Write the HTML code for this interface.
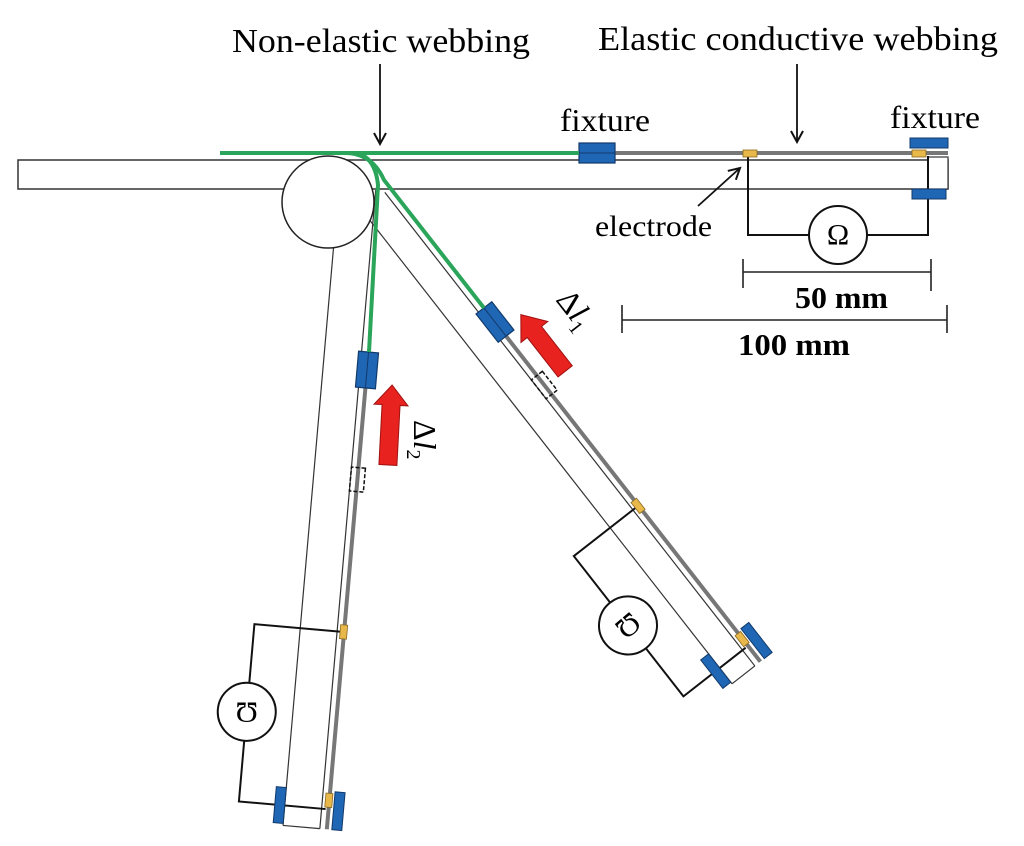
<!DOCTYPE html>
<html><head><meta charset="utf-8"><style>
html,body{margin:0;padding:0;background:#fff;}
svg{display:block;font-family:"Liberation Serif",serif;}
</style></head><body>
<svg width="1024" height="846" viewBox="0 0 1024 846" xmlns="http://www.w3.org/2000/svg">
<defs>
<marker id="ah" markerWidth="14" markerHeight="14" refX="12" refY="7" orient="auto" markerUnits="userSpaceOnUse">
<path d="M1,1 L12,7 L1,13" fill="none" stroke="#111" stroke-width="2"/>
</marker>
</defs>

<rect x="18" y="160" width="930" height="29" fill="#fff" stroke="#333" stroke-width="1.5"/>

<g transform="translate(495,322) rotate(52)">
  <line x1="-170" y1="7" x2="431" y2="7" stroke="#333" stroke-width="1.2"/>
  <line x1="-170" y1="36" x2="431" y2="36" stroke="#333" stroke-width="1.2"/>
  <line x1="431" y1="7" x2="431" y2="36" stroke="#333" stroke-width="1.2"/>
  <line x1="0" y1="0" x2="431" y2="0" stroke="#777" stroke-width="4"/>
  <rect x="68" y="-7" width="24" height="14" fill="none" stroke="#111" stroke-width="1.5" stroke-dasharray="4,2"/>
  <polyline points="233,3 233,82 411,82 411,3" fill="none" stroke="#111" stroke-width="2"/>
  <circle cx="321" cy="82" r="29" fill="#fff" stroke="#111" stroke-width="2"/>
  <text x="0" y="0" transform="translate(321,82) rotate(88)" font-size="30" text-anchor="middle" dominant-baseline="central">Ω</text>
  <rect x="226" y="-3" width="14" height="7" fill="#e8b84a" stroke="#8a6a20" stroke-width="0.8"/>
  <rect x="395" y="-3" width="14" height="7" fill="#e8b84a" stroke="#8a6a20" stroke-width="0.8"/>
  <rect x="393" y="-15" width="38" height="10" fill="#1f66b5" stroke="#123a6a"/>
  <rect x="393" y="36" width="36" height="10" fill="#1f66b5" stroke="#123a6a"/>
  <rect x="-18" y="-10" width="36" height="20" fill="#1f66b5" stroke="#123a6a" stroke-width="1.2"/>
  <line x1="-18" y1="0" x2="18" y2="0" stroke="#123a6a"/>
</g>

<g transform="translate(367,370) rotate(95)">
  <line x1="-180" y1="7" x2="461" y2="7" stroke="#333" stroke-width="1.2"/>
  <line x1="-150" y1="44" x2="461" y2="44" stroke="#333" stroke-width="1.2"/>
  <line x1="461" y1="7" x2="461" y2="44" stroke="#333" stroke-width="1.2"/>
  <line x1="0" y1="0" x2="461" y2="0" stroke="#777" stroke-width="4"/>
  <rect x="98" y="-7" width="24" height="14" fill="none" stroke="#111" stroke-width="1.5" stroke-dasharray="4,2"/>
  <polyline points="263,3 263,90 441,90 441,3" fill="none" stroke="#111" stroke-width="2"/>
  <circle cx="351" cy="90" r="29" fill="#fff" stroke="#111" stroke-width="2"/>
  <text x="0" y="0" transform="translate(351,90) rotate(85)" font-size="30" text-anchor="middle" dominant-baseline="central">Ω</text>
  <rect x="256" y="-3" width="14" height="7" fill="#e8b84a" stroke="#8a6a20" stroke-width="0.8"/>
  <rect x="425" y="-3" width="14" height="7" fill="#e8b84a" stroke="#8a6a20" stroke-width="0.8"/>
  <rect x="423" y="-15" width="38" height="10" fill="#1f66b5" stroke="#123a6a"/>
  <rect x="423" y="44" width="36" height="10" fill="#1f66b5" stroke="#123a6a"/>
  <rect x="-18" y="-10" width="36" height="20" fill="#1f66b5" stroke="#123a6a" stroke-width="1.2"/>
  <line x1="-18" y1="0" x2="18" y2="0" stroke="#123a6a"/>
</g>

<circle cx="328" cy="202" r="46" fill="#fff" stroke="#222" stroke-width="1.5"/>

<g transform="translate(597,153)">
  <line x1="0" y1="0" x2="351" y2="0" stroke="#777" stroke-width="4"/>
  <rect x="331" y="4" width="20" height="32" fill="#fff" stroke="#333" stroke-width="1.2"/>
  <polyline points="151,3 151,82 331,82 331,3" fill="none" stroke="#111" stroke-width="2"/>
  <circle cx="241" cy="82" r="29" fill="#fff" stroke="#111" stroke-width="2"/>
  <text x="241" y="82" font-size="30" text-anchor="middle" dominant-baseline="central">Ω</text>
  <rect x="146" y="-3" width="14" height="7" fill="#e8b84a" stroke="#8a6a20" stroke-width="0.8"/>
  <rect x="315" y="-3" width="14" height="7" fill="#e8b84a" stroke="#8a6a20" stroke-width="0.8"/>
  <rect x="313" y="-15" width="38" height="10" fill="#1f66b5" stroke="#123a6a"/>
  <rect x="315" y="36" width="34" height="10" fill="#1f66b5" stroke="#123a6a"/>
  <rect x="-18" y="-10" width="36" height="20" fill="#1f66b5" stroke="#123a6a" stroke-width="1.2"/>
  <line x1="-18" y1="0" x2="18" y2="0" stroke="#123a6a"/>
</g>

<g fill="none" stroke="#2aa55a" stroke-width="4" stroke-linecap="butt">
  <line x1="220" y1="153" x2="579" y2="153"/>
  <path d="M345,153 Q372,153 384,180 L484,308"/>
  <path d="M355,153 Q375,156 378,185 L369,352"/>
</g>

<g transform="translate(543,343) rotate(-128)">
  <polygon points="-36,-9 14,-9 14,-17 36,0 14,17 14,9 -36,9" fill="#e8231f" stroke="#a01010" stroke-width="1"/>
</g>
<g transform="translate(390,425) rotate(-87)">
  <polygon points="-40,-9 20,-9 20,-17 40,0 20,17 20,9 -40,9" fill="#e8231f" stroke="#a01010" stroke-width="1"/>
</g>
<text transform="translate(555,300) rotate(52)" font-size="32"><tspan>Δ</tspan><tspan font-style="italic">l</tspan><tspan font-size="20" dy="7">1</tspan></text>
<text transform="translate(414,420) rotate(90)" font-size="32"><tspan>Δ</tspan><tspan font-style="italic">l</tspan><tspan font-size="20" dy="7">2</tspan></text>

<text x="232" y="52" font-size="34" textLength="298" lengthAdjust="spacingAndGlyphs">Non-elastic webbing</text>
<text x="598" y="50" font-size="34" textLength="400" lengthAdjust="spacingAndGlyphs">Elastic conductive webbing</text>
<line x1="380" y1="64" x2="380" y2="144" stroke="#111" stroke-width="1.8" marker-end="url(#ah)"/>
<line x1="797" y1="64" x2="797" y2="142" stroke="#111" stroke-width="1.8" marker-end="url(#ah)"/>
<text x="560" y="131" font-size="32" textLength="90" lengthAdjust="spacingAndGlyphs">fixture</text>
<text x="890" y="128" font-size="32" textLength="90" lengthAdjust="spacingAndGlyphs">fixture</text>
<text x="595" y="236" font-size="30" textLength="117" lengthAdjust="spacingAndGlyphs">electrode</text>
<line x1="698" y1="206" x2="740" y2="168" stroke="#111" stroke-width="1.8" marker-end="url(#ah)"/>

<g stroke="#222" stroke-width="1.6">
  <line x1="743" y1="272" x2="931" y2="272"/>
  <line x1="743" y1="259" x2="743" y2="288"/>
  <line x1="931" y1="259" x2="931" y2="291"/>
  <line x1="622" y1="320" x2="947" y2="320"/>
  <line x1="622" y1="305" x2="622" y2="333"/>
  <line x1="947" y1="305" x2="947" y2="333"/>
</g>
<text x="795" y="308" font-size="31" font-weight="bold" textLength="93" lengthAdjust="spacingAndGlyphs">50 mm</text>
<text x="738" y="355" font-size="31" font-weight="bold" textLength="112" lengthAdjust="spacingAndGlyphs">100 mm</text>
</svg>
</body></html>
